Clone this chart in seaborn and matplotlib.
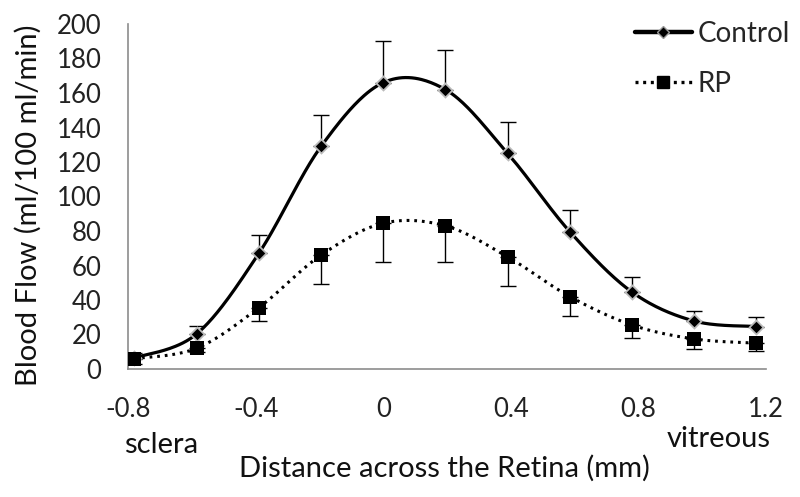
import numpy as np
import matplotlib
matplotlib.use("Agg")
import matplotlib.pyplot as plt
import seaborn as sns
from matplotlib.lines import Line2D

# ---- data ----
distance = [-0.78, -0.585, -0.39, -0.195, 0.0, 0.195, 0.39, 0.585, 0.78, 0.975, 1.17]
control = [6.4, 20.3, 67, 129, 166, 162, 125, 79.6, 44.6, 27.8, 24.6]
control_err = [3, 4.5, 10.5, 18, 24, 23, 18, 12.5, 8.5, 6, 5.5]
rp = [6, 12, 35.5, 66, 84.5, 83, 65, 42, 25.5, 17.4, 15]
rp_err = [3, 2, 7.5, 17, 22.5, 21, 17, 11, 7.5, 6, 4.5]
xticks = [-0.8, -0.4, 0, 0.4, 0.8, 1.2]
xtick_labels = ["-0.8", "-0.4", "0", "0.4", "0.8", "1.2"]
yticks = list(range(0, 201, 20))

sns.set_theme(style="white")
plt.rcParams['font.family'] = ['Lato', 'DejaVu Sans']

LABEL_FS = 21
TICK_FS = 18.5
TXT = '#111111'


def smooth(xs, ys, n=40):
    """Excel-like smoothed line (cubic Bezier / Catmull-Rom) through points."""
    xs = np.asarray(xs, float)
    ys = np.asarray(ys, float)
    P = np.column_stack([xs, ys])
    out = []
    for i in range(len(P) - 1):
        p0 = P[i - 1] if i > 0 else P[i]
        p1 = P[i]
        p2 = P[i + 1]
        p3 = P[i + 2] if i + 2 < len(P) else P[i + 1]
        c1 = p1 + (p2 - p0) / 6.0
        c2 = p2 - (p3 - p1) / 6.0
        t = np.linspace(0, 1, n)[:, None]
        seg = ((1 - t) ** 3) * p1 + 3 * ((1 - t) ** 2) * t * c1 + 3 * (1 - t) * t ** 2 * c2 + t ** 3 * p2
        out.append(seg if i == 0 else seg[1:])
    s = np.vstack(out)
    return s[:, 0], s[:, 1]


fig = plt.figure(figsize=(8.0, 4.97), dpi=100)
ax = fig.add_axes([128 / 800, 1 - 369 / 497, (766 - 128) / 800, (369 - 24) / 497])

zeros = [0] * len(distance)
# error bars
ax.errorbar(distance, control, yerr=[zeros, control_err], fmt='none', ecolor='black',
            elinewidth=1.0, capsize=6, capthick=1.0, zorder=2)
ax.errorbar(distance, rp, yerr=[rp_err, zeros], fmt='none', ecolor='black',
            elinewidth=1.0, capsize=6, capthick=1.0, zorder=2)

# smoothed lines
cx, cy = smooth(distance, control)
rx, ry = smooth(distance, rp)
sns.lineplot(x=cx, y=cy, ax=ax, color='black', linewidth=2.3, sort=False, zorder=3)
sns.lineplot(x=rx, y=ry, ax=ax, color='black', linewidth=2.2, sort=False, zorder=3,
             linestyle=(0, (0.9, 1.6)))

# markers
ax.scatter(distance, control, marker='D', s=70, color='#bbbbbb', zorder=4, linewidths=0)
ax.scatter(distance, control, marker='D', s=34, color='black', zorder=5, linewidths=0)
ax.scatter(distance, rp, marker='s', s=90, color='black', zorder=5, linewidths=0)

ax.set_xlim(-0.8, 1.2)
ax.set_ylim(0, 200)
ax.set_xticks(xticks)
ax.set_xticklabels(xtick_labels)
ax.set_yticks(yticks)
ax.tick_params(axis='both', which='both', direction='out', length=7, width=1,
               color='#8c8c8c', labelsize=TICK_FS, labelcolor='#222222')
ax.tick_params(axis='y', pad=12)
ax.tick_params(axis='x', pad=13)
for side in ['top', 'right']:
    ax.spines[side].set_visible(False)
for side in ['left', 'bottom']:
    ax.spines[side].set_color('#8c8c8c')
    ax.spines[side].set_linewidth(1.2)

fig.text(28 / 800, 1 - 205 / 497, "Blood Flow (ml/100 ml/min)", fontsize=LABEL_FS,
         rotation=90, ha='center', va='center', color=TXT)
fig.text(444 / 800, 1 - 468 / 497, "Distance across the Retina (mm)", fontsize=LABEL_FS,
         ha='center', va='center', color=TXT)
fig.text(161 / 800, 1 - 445 / 497, "sclera", fontsize=LABEL_FS, ha='center', va='center', color=TXT)
fig.text(719 / 800, 1 - 439 / 497, "vitreous", fontsize=LABEL_FS, ha='center', va='center', color=TXT)

# legend
h1 = Line2D([], [], color='black', linewidth=3.2, marker='D', markersize=6,
            markerfacecolor='black', markeredgecolor='#999999')
h2 = Line2D([], [], color='black', linewidth=2.4, linestyle=(0, (0.9, 1.4)), marker='s',
            markersize=8, markerfacecolor='black', markeredgecolor='black')
fig.legend([h1, h2], ["Control", "RP"], loc='upper left', bbox_to_anchor=(635 / 800, 1 - 21 / 497),
           frameon=False, fontsize=20, handlelength=2.05, handletextpad=0.2,
           labelspacing=0.85, borderpad=0, borderaxespad=0)

fig.savefig("out.png", dpi=100)
